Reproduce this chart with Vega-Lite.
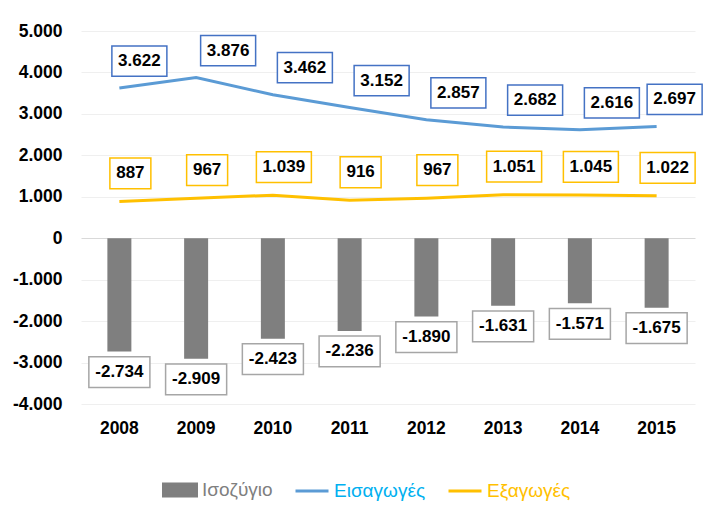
{
  "$schema": "https://vega.github.io/schema/vega-lite/v6.json",
  "autosize": "none",
  "width": 614,
  "height": 373,
  "padding": {"left": 81, "top": 31, "right": 10, "bottom": 108},
  "background": "white",
  "config": {
    "view": {"stroke": null},
    "locale": {"number": {"decimal": ",", "thousands": ".", "grouping": [3], "currency": ["", " €"], "minus": "-"}},
    "font": "Liberation Sans"
  },
  "data": {"values": [
    {"year": "2008", "series": "Ισοζύγιο", "value": -2734},
    {"year": "2009", "series": "Ισοζύγιο", "value": -2909},
    {"year": "2010", "series": "Ισοζύγιο", "value": -2423},
    {"year": "2011", "series": "Ισοζύγιο", "value": -2236},
    {"year": "2012", "series": "Ισοζύγιο", "value": -1890},
    {"year": "2013", "series": "Ισοζύγιο", "value": -1631},
    {"year": "2014", "series": "Ισοζύγιο", "value": -1571},
    {"year": "2015", "series": "Ισοζύγιο", "value": -1675},
    {"year": "2008", "series": "Εισαγωγές", "value": 3622},
    {"year": "2009", "series": "Εισαγωγές", "value": 3876},
    {"year": "2010", "series": "Εισαγωγές", "value": 3462},
    {"year": "2011", "series": "Εισαγωγές", "value": 3152},
    {"year": "2012", "series": "Εισαγωγές", "value": 2857},
    {"year": "2013", "series": "Εισαγωγές", "value": 2682},
    {"year": "2014", "series": "Εισαγωγές", "value": 2616},
    {"year": "2015", "series": "Εισαγωγές", "value": 2697},
    {"year": "2008", "series": "Εξαγωγές", "value": 887},
    {"year": "2009", "series": "Εξαγωγές", "value": 967},
    {"year": "2010", "series": "Εξαγωγές", "value": 1039},
    {"year": "2011", "series": "Εξαγωγές", "value": 916},
    {"year": "2012", "series": "Εξαγωγές", "value": 967},
    {"year": "2013", "series": "Εξαγωγές", "value": 1051},
    {"year": "2014", "series": "Εξαγωγές", "value": 1045},
    {"year": "2015", "series": "Εξαγωγές", "value": 1022}
  ]},
  "encoding": {
    "x": {
      "field": "year", "type": "nominal", "title": null,
      "scale": {"paddingInner": 0, "paddingOuter": 0},
      "axis": {"labelAngle": 0, "ticks": false, "domain": false, "labelPadding": 15,
        "labelFont": "Liberation Sans", "labelFontWeight": "bold", "labelFontSize": 17.5, "labelColor": "#000000"}
    },
    "y": {
      "field": "value", "type": "quantitative", "title": null,
      "scale": {"domain": [-4000, 5000], "nice": false, "zero": false},
      "axis": {"values": [-4000, -3000, -2000, -1000, 0, 1000, 2000, 3000, 4000, 5000], "format": ",d",
        "ticks": false, "domain": false, "labelPadding": 19,
        "labelFont": "Liberation Sans", "labelFontWeight": "bold", "labelFontSize": 17.5, "labelColor": "#000000",
        "gridColor": {"condition": {"test": "datum.value === 0", "value": "#d9d9d9"}, "value": "#efefef"}, "gridWidth": 1}
    }
  },
  "layer": [
    {
      "transform": [{"filter": "datum.series === 'Ισοζύγιο'"}],
      "mark": {"type": "bar", "width": 24},
      "encoding": {
        "color": {"field": "series", "type": "nominal",
          "scale": {"domain": ["Ισοζύγιο", "Εισαγωγές", "Εξαγωγές"], "range": ["#7f7f7f", "#5b9bd5", "#ffc000"]},
          "legend": {
            "orient": "none", "legendX": 81, "legendY": 441, "direction": "horizontal", "title": null,
            "symbolSize": 1089, "symbolStrokeWidth": 3,
            "labelFont": "Liberation Sans", "labelFontSize": 19, "labelOffset": 4, "columnPadding": 16,
            "encode": {
              "symbols": {"update": {
                "shape": {"signal": "datum.value === 'Ισοζύγιο' ? 'M-1,-0.36H1V0.36H-1Z' : 'M-1,0H1'"},
                "fill": {"signal": "datum.value === 'Ισοζύγιο' ? '#7f7f7f' : 'transparent'"},
                "stroke": {"signal": "datum.value === 'Ισοζύγιο' ? 'transparent' : (datum.value === 'Εισαγωγές' ? '#5b9bd5' : '#ffc000')"},
                "strokeWidth": {"value": 3}
              }},
              "labels": {"update": {
                "fill": {"signal": "datum.value === 'Ισοζύγιο' ? '#7f7f7f' : (datum.value === 'Εισαγωγές' ? '#00b0f0' : '#ffc000')"}
              }}
            }
          }
        }
      }
    },
    {
      "transform": [{"filter": "datum.series !== 'Ισοζύγιο'"}],
      "mark": {"type": "line", "strokeWidth": 3, "interpolate": "linear"},
      "encoding": {
        "color": {"field": "series", "type": "nominal"}
      }
    },
    {
      "transform": [{"filter": "datum.series === 'Εισαγωγές'"}],
      "mark": {"type": "point", "filled": false, "fill": "white", "fillOpacity": 1, "stroke": "#4472c4", "strokeWidth": 1.5, "opacity": 1, "size": 3025,
        "xOffset": {"expr": "datum.year === '2015' ? 18 : (datum.year === '2008' ? 20 : 32)"}, "yOffset": -27,
        "shape": "M-1,-0.55H1V0.55H-1Z"}
    },
    {
      "transform": [{"filter": "datum.series === 'Εισαγωγές'"}],
      "mark": {"type": "text", "dx": {"expr": "datum.year === '2015' ? 18 : (datum.year === '2008' ? 20 : 32)"}, "dy": -27, "font": "Liberation Sans", "fontWeight": "bold", "fontSize": 17, "baseline": "middle", "align": "center", "color": "#000000"},
      "encoding": {"text": {"field": "value", "type": "quantitative", "format": ",d"}}
    },
    {
      "transform": [{"filter": "datum.series === 'Εξαγωγές'"}],
      "mark": {"type": "point", "filled": false, "fill": "white", "fillOpacity": 1, "stroke": "#ffc000", "strokeWidth": 1.5, "opacity": 1, "size": 3025, "xOffset": 11, "yOffset": -28},
      "encoding": {
        "shape": {"condition": {"test": "abs(datum.value) < 1000", "value": "M-0.745,-0.56H0.745V0.56H-0.745Z"}, "value": "M-1,-0.56H1V0.56H-1Z"}
      }
    },
    {
      "transform": [{"filter": "datum.series === 'Εξαγωγές'"}],
      "mark": {"type": "text", "dx": 11, "dy": -28, "font": "Liberation Sans", "fontWeight": "bold", "fontSize": 17, "baseline": "middle", "align": "center", "color": "#000000"},
      "encoding": {"text": {"field": "value", "type": "quantitative", "format": ",d"}}
    },
    {
      "transform": [{"filter": "datum.series === 'Ισοζύγιο'"}],
      "mark": {"type": "point", "filled": false, "fill": "white", "fillOpacity": 1, "stroke": "#a6a6a6", "strokeWidth": 1.5, "opacity": 1, "size": 3025, "xOffset": 0, "yOffset": 20.5,
        "shape": "M-1.11,-0.56H1.11V0.56H-1.11Z"}
    },
    {
      "transform": [{"filter": "datum.series === 'Ισοζύγιο'"}],
      "mark": {"type": "text", "dx": 0, "dy": 20.5, "font": "Liberation Sans", "fontWeight": "bold", "fontSize": 17, "baseline": "middle", "align": "center", "color": "#000000"},
      "encoding": {"text": {"field": "value", "type": "quantitative", "format": ",d"}}
    }
  ]
}
